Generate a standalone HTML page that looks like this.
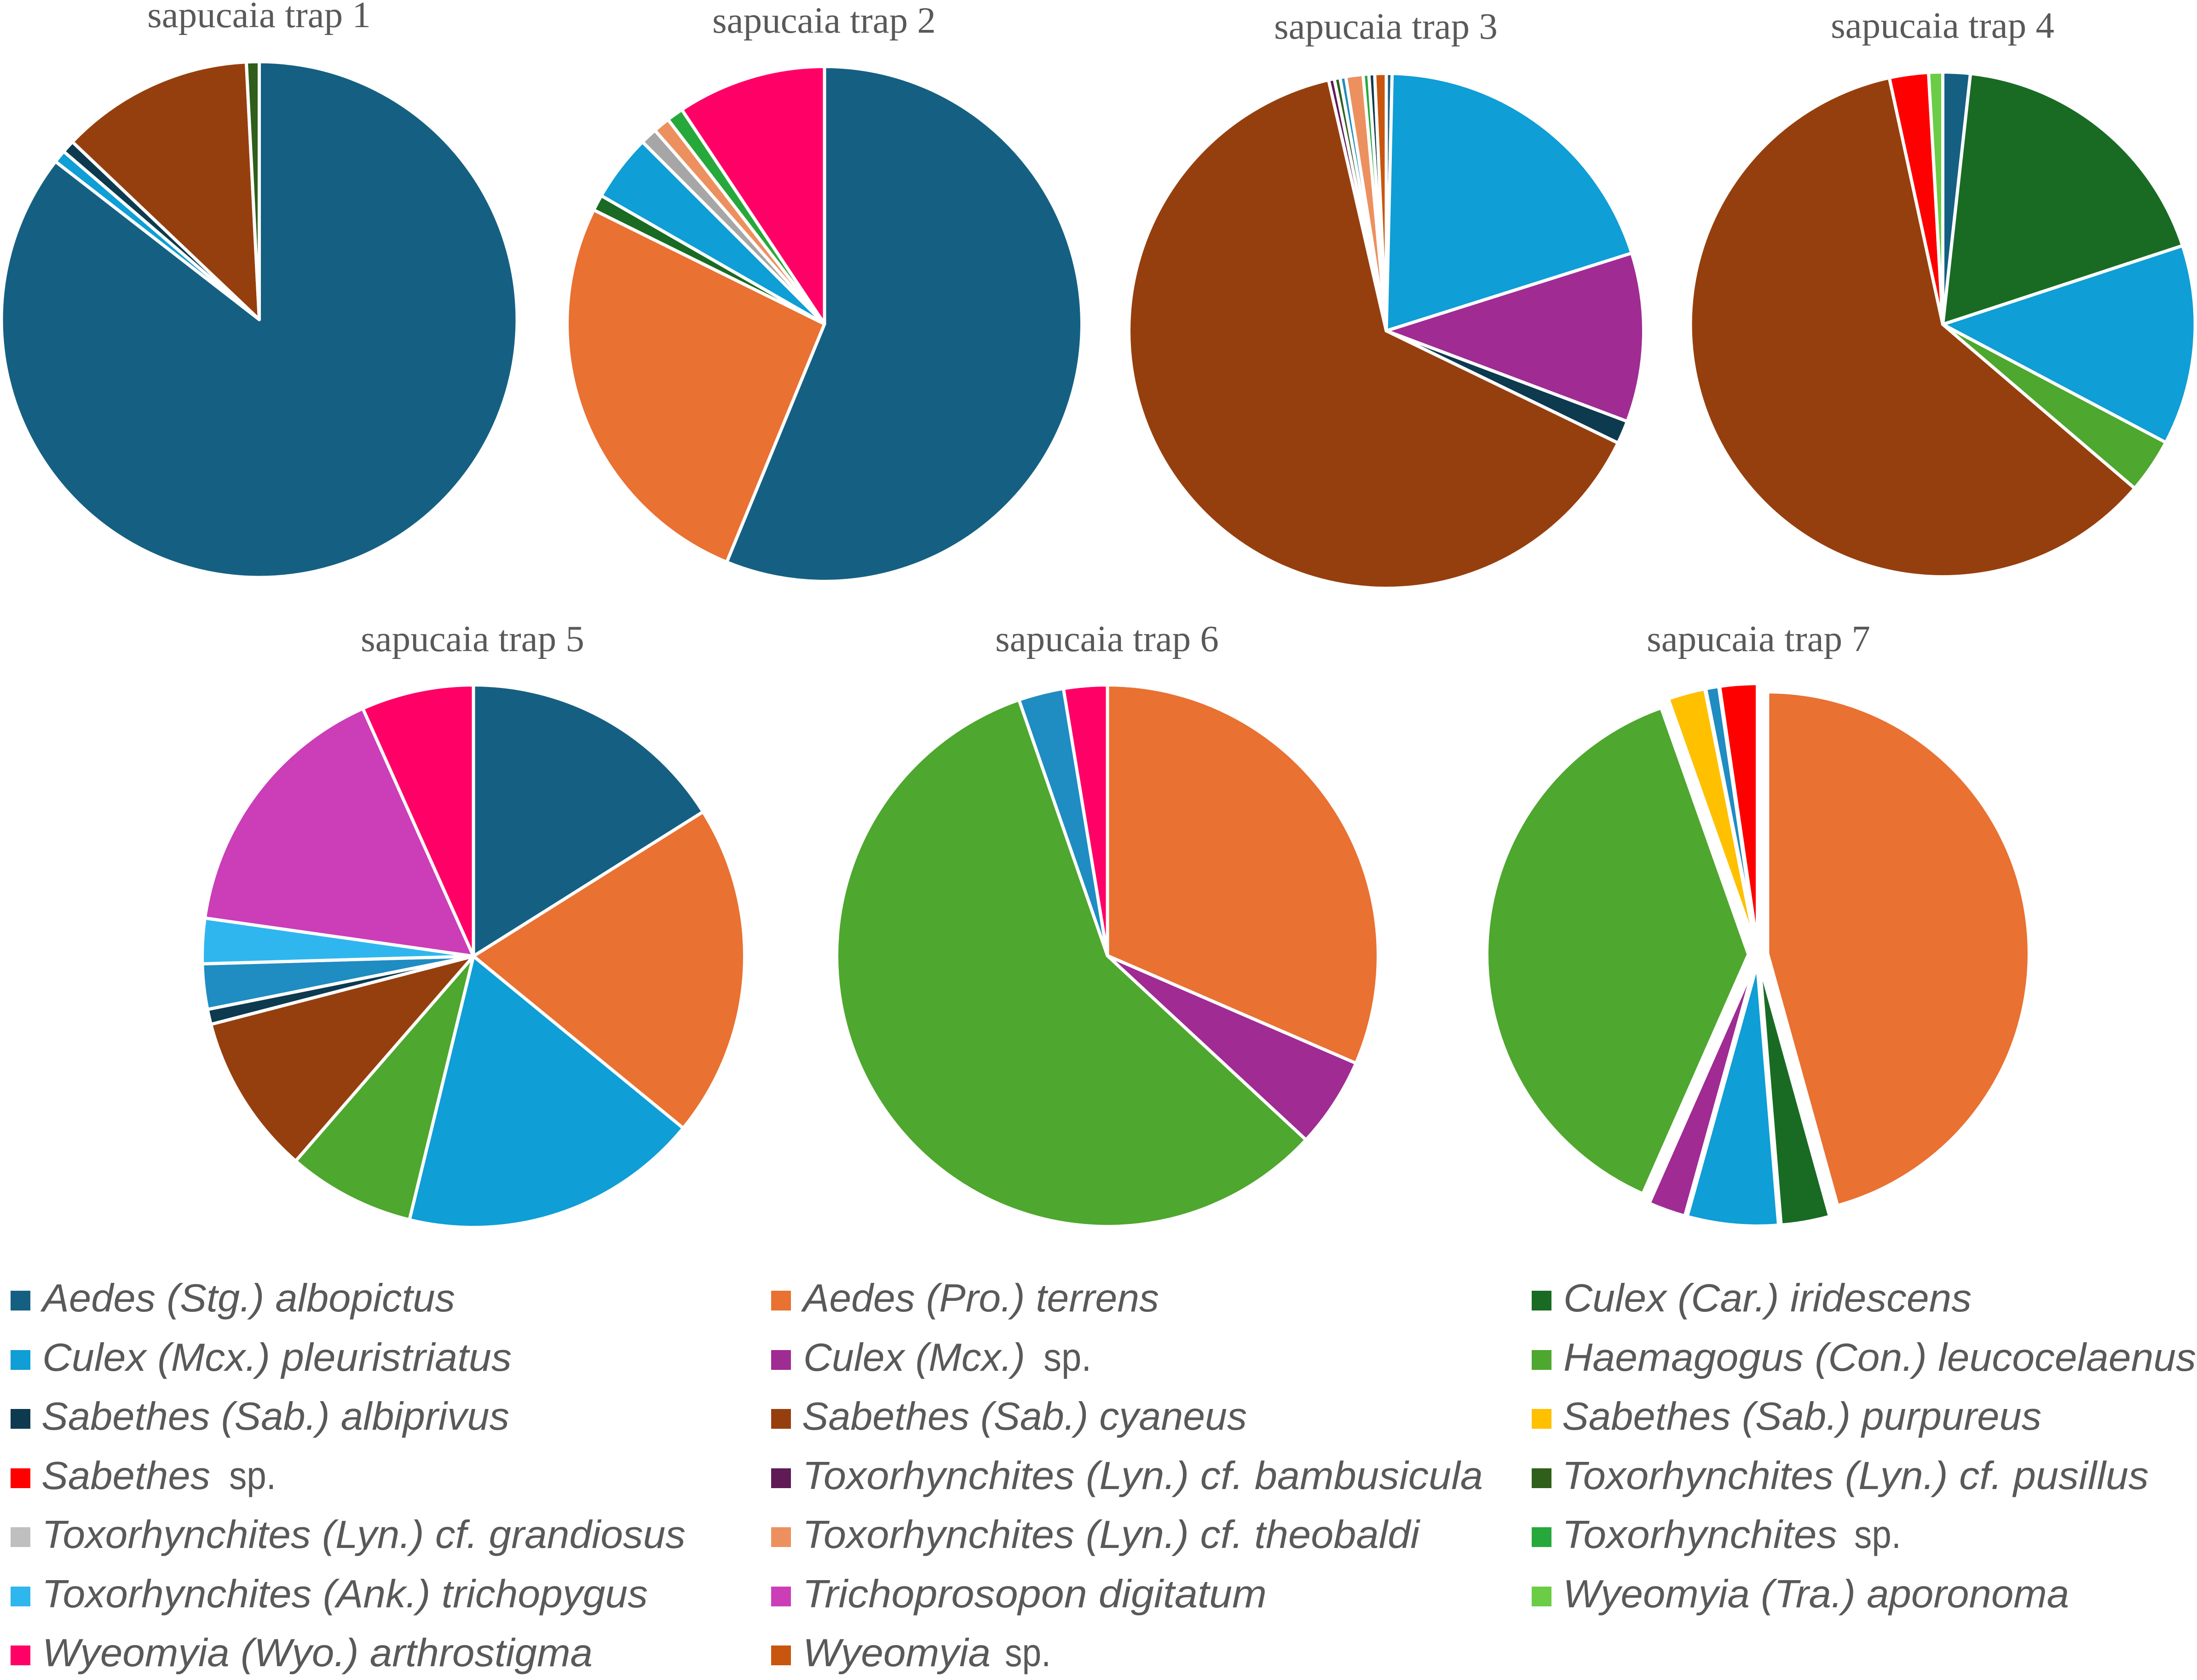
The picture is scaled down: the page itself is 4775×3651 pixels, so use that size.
<!DOCTYPE html>
<html lang="en">
<head>
<meta charset="utf-8">
<title>Mosquito species composition by sapucaia trap</title>
<style>
html,body{margin:0;padding:0;background:#fff;width:4775px;height:3651px;overflow:hidden}
svg{display:block}
.t{font-family:"Liberation Serif",serif;font-size:81px;fill:#595959;text-anchor:middle}
.l{font-family:"Liberation Sans",sans-serif;font-size:85px;font-style:italic;fill:#595959}
.u{font-family:"Liberation Sans",sans-serif;font-size:85px;fill:#595959}
</style>
</head>
<body>
<svg id="chart" xmlns="http://www.w3.org/2000/svg" width="4775" height="3651" viewBox="0 0 4775 3651">
<rect width="4775" height="3651" fill="#ffffff"/>
<g id="pies"></g>

<text class="t" x="563" y="59">sapucaia trap 1</text>
<text class="t" x="1791" y="71">sapucaia trap 2</text>
<text class="t" x="3012" y="84">sapucaia trap 3</text>
<text class="t" x="4222" y="82">sapucaia trap 4</text>
<text class="t" x="1027" y="1415">sapucaia trap 5</text>
<text class="t" x="2406" y="1415">sapucaia trap 6</text>
<text class="t" x="3822" y="1415">sapucaia trap 7</text>

<g id="legend">
<g><rect x="23" y="2805" width="43" height="43" fill="#156082"/><text class="l" x="92" y="2850" textLength="897" lengthAdjust="spacingAndGlyphs">Aedes (Stg.) albopictus</text></g>
<g><rect x="1676" y="2805" width="43" height="43" fill="#E97132"/><text class="l" x="1745" y="2850" textLength="774" lengthAdjust="spacingAndGlyphs">Aedes (Pro.) terrens</text></g>
<g><rect x="3329" y="2805" width="43" height="43" fill="#196B24"/><text class="l" x="3398" y="2850" textLength="887" lengthAdjust="spacingAndGlyphs">Culex (Car.) iridescens</text></g>

<g><rect x="23" y="2934" width="43" height="43" fill="#0F9ED5"/><text class="l" x="92" y="2979" textLength="1020" lengthAdjust="spacingAndGlyphs">Culex (Mcx.) pleuristriatus</text></g>
<g><rect x="1676" y="2934" width="43" height="43" fill="#A02B93"/><text class="l" x="1746" y="2979" textLength="482" lengthAdjust="spacingAndGlyphs">Culex (Mcx.)</text><text class="u" x="2268" y="2979" textLength="104" lengthAdjust="spacingAndGlyphs">sp.</text></g>
<g><rect x="3329" y="2934" width="43" height="43" fill="#4EA72E"/><text class="l" x="3398" y="2979" textLength="1375" lengthAdjust="spacingAndGlyphs">Haemagogus (Con.) leucocelaenus</text></g>

<g><rect x="23" y="3062" width="43" height="43" fill="#0D3A4E"/><text class="l" x="90" y="3107" textLength="1017" lengthAdjust="spacingAndGlyphs">Sabethes (Sab.) albiprivus</text></g>
<g><rect x="1676" y="3062" width="43" height="43" fill="#963F0E"/><text class="l" x="1743" y="3107" textLength="967" lengthAdjust="spacingAndGlyphs">Sabethes (Sab.) cyaneus</text></g>
<g><rect x="3329" y="3062" width="43" height="43" fill="#FFC000"/><text class="l" x="3395" y="3107" textLength="1042" lengthAdjust="spacingAndGlyphs">Sabethes (Sab.) purpureus</text></g>

<g><rect x="23" y="3191" width="43" height="43" fill="#FF0000"/><text class="l" x="90" y="3236" textLength="367" lengthAdjust="spacingAndGlyphs">Sabethes</text><text class="u" x="498" y="3236" textLength="102" lengthAdjust="spacingAndGlyphs">sp.</text></g>
<g><rect x="1676" y="3191" width="43" height="43" fill="#601A55"/><text class="l" x="1744" y="3236" textLength="1479" lengthAdjust="spacingAndGlyphs">Toxorhynchites (Lyn.) cf. bambusicula</text></g>
<g><rect x="3329" y="3191" width="43" height="43" fill="#2F5F1B"/><text class="l" x="3395" y="3236" textLength="1275" lengthAdjust="spacingAndGlyphs">Toxorhynchites (Lyn.) cf. pusillus</text></g>

<g><rect x="23" y="3319" width="43" height="43" fill="#BFBFBF"/><text class="l" x="91" y="3364" textLength="1399" lengthAdjust="spacingAndGlyphs">Toxorhynchites (Lyn.) cf. grandiosus</text></g>
<g><rect x="1676" y="3319" width="43" height="43" fill="#ED905F"/><text class="l" x="1744" y="3364" textLength="1341" lengthAdjust="spacingAndGlyphs">Toxorhynchites (Lyn.) cf. theobaldi</text></g>
<g><rect x="3329" y="3319" width="43" height="43" fill="#27A83B"/><text class="l" x="3395" y="3364" textLength="598" lengthAdjust="spacingAndGlyphs">Toxorhynchites</text><text class="u" x="4030" y="3364" textLength="102" lengthAdjust="spacingAndGlyphs">sp.</text></g>

<g><rect x="23" y="3448" width="43" height="43" fill="#2FB6EE"/><text class="l" x="91" y="3493" textLength="1317" lengthAdjust="spacingAndGlyphs">Toxorhynchites (Ank.) trichopygus</text></g>
<g><rect x="1676" y="3448" width="43" height="43" fill="#CC3DB8"/><text class="l" x="1744" y="3493" textLength="1009" lengthAdjust="spacingAndGlyphs">Trichoprosopon digitatum</text></g>
<g><rect x="3329" y="3448" width="43" height="43" fill="#6BCC45"/><text class="l" x="3397" y="3493" textLength="1100" lengthAdjust="spacingAndGlyphs">Wyeomyia (Tra.) aporonoma</text></g>

<g><rect x="23" y="3576" width="43" height="43" fill="#FF0066"/><text class="l" x="92" y="3621" textLength="1196" lengthAdjust="spacingAndGlyphs">Wyeomyia (Wyo.) arthrostigma</text></g>
<g><rect x="1676" y="3576" width="43" height="43" fill="#C9560F"/><text class="l" x="1745" y="3621" textLength="408" lengthAdjust="spacingAndGlyphs">Wyeomyia</text><text class="u" x="2184" y="3621" textLength="100" lengthAdjust="spacingAndGlyphs">sp.</text></g>
</g>
</svg>

<script>
// Species shown in each trap, clockwise from 12 o'clock, with percentages.
const trap1Species = ['albopictus', 'pleuristriatus', 'albiprivus', 'cyaneus', 'pusillus'];
const trap1Values = [85.5, 0.8, 0.8, 12.1, 0.8];

const trap2Species = ['albopictus', 'terrens', 'iridescens', 'pleuristriatus', 'grandiosus', 'theobaldi', 'toxorhynchites-sp', 'arthrostigma'];
const trap2Values = [56.2, 26.1, 1.0, 4.2, 1.05, 1.05, 1.05, 9.35];

const trap3Species = ['albopictus', 'pleuristriatus', 'culex-sp', 'albiprivus', 'cyaneus', 'bambusicula', 'pusillus', 'unlisted-blue', 'theobaldi', 'toxorhynchites-sp', 'albiprivus', 'wyeomyia-sp'];
const trap3Values = [0.36, 19.75, 10.6, 1.45, 64.2, 0.36, 0.36, 0.36, 1.08, 0.36, 0.36, 0.72];

const trap4Species = ['albopictus', 'iridescens', 'pleuristriatus', 'haemagogus', 'cyaneus', 'sabethes-sp', 'aporonoma'];
const trap4Values = [1.75, 18.2, 12.8, 3.5, 60.35, 2.5, 0.9];

const trap5Species = ['albopictus', 'terrens', 'pleuristriatus', 'haemagogus', 'cyaneus', 'albiprivus', 'unlisted-blue', 'trichopygus', 'digitatum', 'arthrostigma'];
const trap5Values = [16.1, 19.9, 17.9, 7.6, 9.6, 0.9, 2.7, 2.7, 16.1, 6.7];

const trap6Species = ['terrens', 'culex-sp', 'haemagogus', 'unlisted-blue', 'arthrostigma'];
const trap6Values = [31.5, 5.4, 57.8, 2.7, 2.6];

const trap7Species = ['terrens', 'iridescens', 'pleuristriatus', 'culex-sp', 'haemagogus', 'purpureus', 'unlisted-blue', 'sabethes-sp'];
const trap7Values = [45.6, 3.0, 5.6, 2.3, 37.9, 2.3, 0.8, 2.3];

const speciesColors = {
  'albopictus': '#156082', 'terrens': '#E97132', 'iridescens': '#196B24',
  'pleuristriatus': '#0F9ED5', 'culex-sp': '#A02B93', 'haemagogus': '#4EA72E',
  'albiprivus': '#0D3A4E', 'cyaneus': '#963F0E', 'purpureus': '#FFC000',
  'sabethes-sp': '#FF0000', 'bambusicula': '#601A55', 'pusillus': '#2F5F1B',
  'grandiosus': '#A6A6A6', 'theobaldi': '#ED905F', 'toxorhynchites-sp': '#27A83B',
  'trichopygus': '#2FB6EE', 'digitatum': '#CC3DB8', 'aporonoma': '#6BCC45',
  'arthrostigma': '#FF0066', 'wyeomyia-sp': '#C9560F', 'unlisted-blue': '#1F8CC2'
};

const SVG_NS = 'http://www.w3.org/2000/svg';
const STROKE = 7;

// Angle scale: cumulative value -> clockwise radians from 12 o'clock.
function angleScale(total) {
  return function (v) { return (v / total) * 2 * Math.PI; };
}
function polar(cx, cy, r, a) {
  return [cx + r * Math.sin(a), cy - r * Math.cos(a)];
}

function drawPie(name, species, values, cx, cy, radius, explode) {
  const layer = document.getElementById('pies');
  const group = document.createElementNS(SVG_NS, 'g');
  
  
  layer.appendChild(group);

  const total = values.reduce(function (a, b) { return a + b; }, 0);
  const angle = angleScale(total);
  const r = radius + STROKE / 2;
  let cum = 0;
  values.forEach(function (v, i) {
    const a0 = angle(cum);
    cum += v;
    const a1 = angle(cum);
    const mid = (a0 + a1) / 2;
    const ox = cx + explode * Math.sin(mid);
    const oy = cy - explode * Math.cos(mid);
    const p0 = polar(ox, oy, r, a0);
    const p1 = polar(ox, oy, r, a1);
    const large = (a1 - a0) > Math.PI ? 1 : 0;
    const slice = document.createElementNS(SVG_NS, 'path');
    slice.setAttribute('d', 'M' + ox + ' ' + oy + 'L' + p0[0] + ' ' + p0[1] + 'A' + r + ' ' + r + ' 0 ' + large + ' 1 ' + p1[0] + ' ' + p1[1] + 'Z');
    slice.setAttribute('fill', speciesColors[species[i]]);
    slice.setAttribute('stroke', '#ffffff');
    slice.setAttribute('stroke-width', STROKE);
    slice.setAttribute('stroke-linejoin', 'round');
    
    
    group.appendChild(slice);
  });
}

drawPie('pie-trap-1', trap1Species, trap1Values, 563.5, 694.5, 557, 0);
drawPie('pie-trap-2', trap2Species, trap2Values, 1792, 704, 556, 0);
drawPie('pie-trap-3', trap3Species, trap3Values, 3013, 719, 556, 0);
drawPie('pie-trap-4', trap4Species, trap4Values, 4222.5, 705, 545, 0);
drawPie('pie-trap-5', trap5Species, trap5Values, 1029, 2078, 586, 0);
drawPie('pie-trap-6', trap6Species, trap6Values, 2407, 2077, 585, 0);
drawPie('pie-trap-7', trap7Species, trap7Values, 3821, 2075, 565, 21);
</script>
</body>
</html>
